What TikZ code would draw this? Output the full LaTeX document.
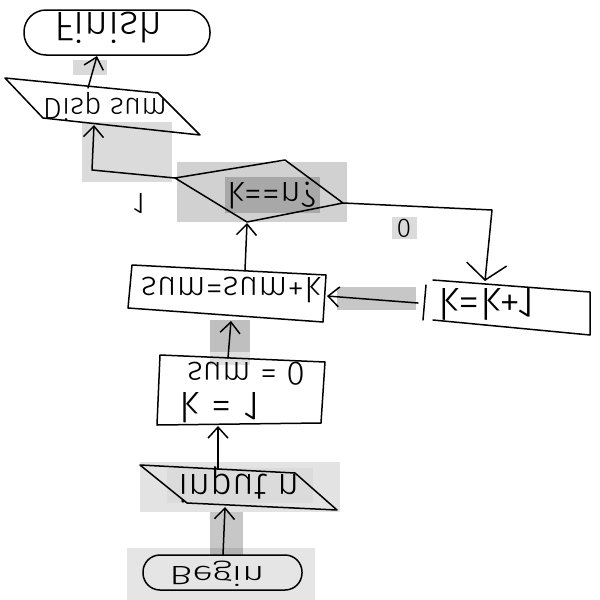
\documentclass[tikz,border=0pt]{standalone}
\usepackage{fontspec}
\setmainfont{Fira Sans Light}
\usepackage{graphicx}
\usetikzlibrary{arrows.meta}
\tikzset{
  ln/.style={line width=1.5pt, line cap=round, line join=round},
  arr/.style={ln, -{Straight Barb[length=11pt,width=20pt,line width=1.5pt]}},
  bigarr/.style={ln, -{Straight Barb[length=16pt,width=40pt,line width=1.5pt]}},
  txt/.style={inner sep=0pt, outer sep=0pt},
}
\newcommand{\flipw}[2]{\scalebox{1}[-1]{\resizebox{#1}{!}{#2}}}
\newcommand{\fliph}[2]{\scalebox{1}[-1]{\resizebox{!}{#1}{#2}}}
\newcommand{\flipwh}[3]{\scalebox{1}[-1]{\resizebox{#1}{#2}{#3}}}
\begin{document}
\begin{tikzpicture}[x=1pt,y=-1pt]
\useasboundingbox (0,0) rectangle (600,600);
\fill[white] (0,0) rectangle (600,600);
% grey patches
\fill[black!15] (73,60) rectangle (107,75);
\fill[black!14] (82,122) rectangle (172,182);
\fill[black!18] (177,162) rectangle (347,222);
\fill[black!34] (225,177) rectangle (320,213);
\fill[black!14] (392,217) rectangle (417,239);
\fill[black!22] (337,287) rectangle (416,310);
\fill[black!25] (210,320) rectangle (250,352);
\fill[black!12] (210,352) rectangle (250,365);
\fill[black!11] (140,462) rectangle (340,512);
\fill[black!14] (167,468) rectangle (313,503);
\fill[black!10] (127,548) rectangle (315,600);
\fill[black!22] (210,512) rectangle (243,555);
\fill[black!30] (210,548) rectangle (243,555);

% shapes
\draw[ln, rounded corners=22pt] (24,10) rectangle (210,55);
\draw[ln] (5,78) -- (158,93) -- (200,135) -- (43,118) -- cycle;
\draw[ln] (175,178) -- (285,160) -- (343,203) -- (247,222) -- cycle;
\draw[ln] (132,265) -- (326,275) -- (323,322) -- (128,308) -- cycle;
\draw[ln] (426,285) -- (423,320);
\draw[ln] (433,280) -- (590,292) -- (590,335) -- (433,320);
\draw[ln] (160,355) -- (325,362) -- (321,423) -- (157,425) -- cycle;
\draw[ln] (140,465) -- (295,473) -- (337,510) -- (187,503) -- cycle;
\draw[ln, rounded corners=17pt] (143,555) rectangle (302,590);

% texts
\node[txt] (tFinish) at (109,28) {\flipw{108pt}{Finish}};
\node[txt] (tDisp) at (105,107) {\flipw{124pt}{Disp sum}};
\node[txt] (tDec) at (272,196) {\flipw{88pt}{k==n?}};
\node[txt] (tSum) at (231,290) {\flipw{180pt}{sum=sum+k}};
\node[txt] (tInc) at (487,304) {\flipw{97pt}{k=k+1}};
\node[txt] (tInit1) at (246,374) {\flipw{118pt}{sum = 0}};
\node[txt] (tInit2) at (220,408) {\flipw{80pt}{k = 1}};
\node[txt] (tInput) at (239,485) {\flipw{122pt}{input n}};
\node[txt] (tBegin) at (217,574) {\flipwh{95pt}{20pt}{Begin}};
\node[txt] (tZero) at (404,228) {\fliph{18pt}{0}};
\node[txt] (tOne) at (139,203) {\fliph{20pt}{1}};

% connector ends
\coordinate (beginTop) at (223,555);
\coordinate (inputBot) at (225,507);
\coordinate (inputTop) at (218,469);
\coordinate (initBot) at (218,426);
\coordinate (initTop) at (228,358);
\coordinate (sumBot) at (231,321);
\coordinate (sumTop) at (245,270);
\coordinate (decBot) at (247,223);
\coordinate (decRight) at (343,203);
\coordinate (rightCorner) at (492,210);
\coordinate (incTop) at (485,281);
\coordinate (incLeft) at (418,303);
\coordinate (sumRight) at (327,296);
\coordinate (decLeft) at (175,178);
\coordinate (leftCorner) at (92,170);
\coordinate (dispBot) at (94,125);
\coordinate (dispTop) at (88,88);
\coordinate (finBot) at (97,56);

% connectors
\draw[arr] (beginTop) -- (inputBot);
\draw[arr] (inputTop) -- (initBot);
\draw[arr] (initTop) -- (sumBot);
\draw[arr] (sumTop) -- (decBot);
\draw[bigarr] (decRight) -- (rightCorner) -- (incTop);
\draw[arr] (incLeft) -- (sumRight);
\draw[arr] (decLeft) -- (leftCorner) -- (dispBot);
\draw[arr] (dispTop) -- (finBot);
\end{tikzpicture}
\end{document}
